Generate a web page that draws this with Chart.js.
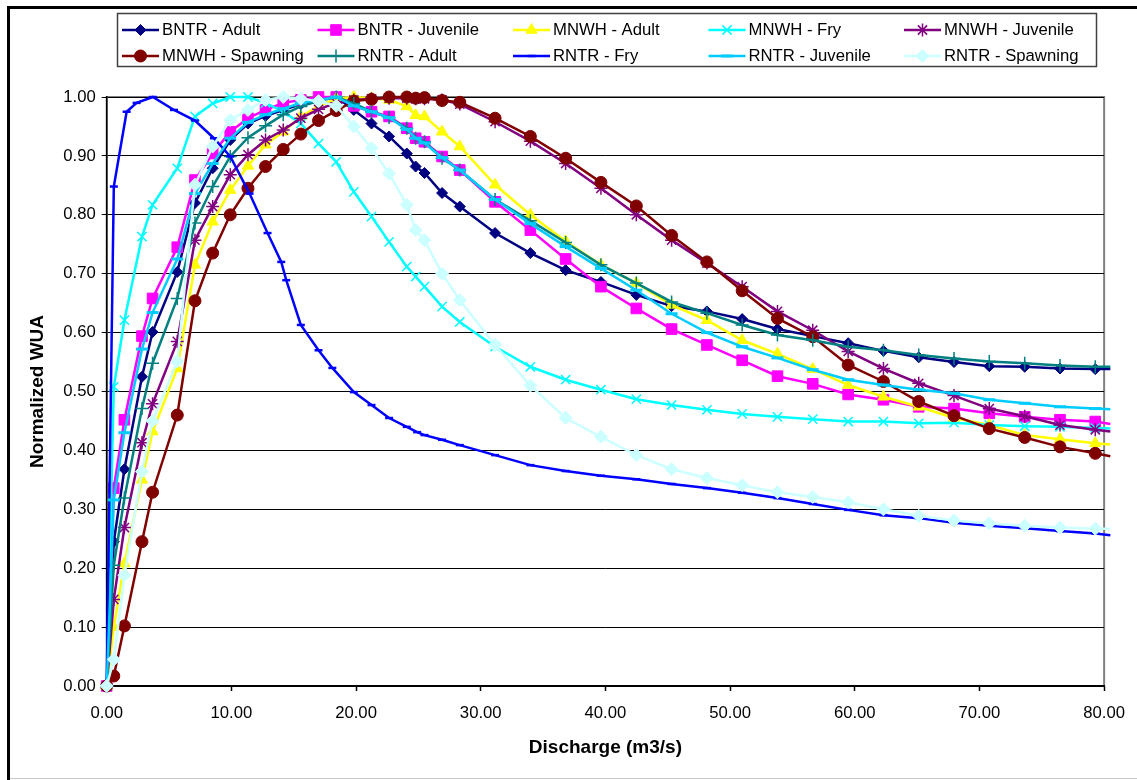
<!DOCTYPE html>
<html>
<head>
<meta charset="utf-8">
<script src="https://cdn.jsdelivr.net/npm/chart.js@4.4.1/dist/chart.umd.min.js"></script>
<style>
html, body { margin: 0; padding: 0; background: #fff; }
#wrap { position: relative; width: 1137px; height: 780px; }
</style>
</head>
<body>
<div id="wrap"><canvas id="wua"></canvas></div>
<script>
// Normalized WUA vs discharge — habitat curves per reach / life stage

// discharge (m3/s) shared by most curves
const discharge = [0, 0.57, 1.42, 2.83, 3.68, 5.66, 7.08, 8.50, 9.91, 11.33, 12.74, 14.16, 15.57, 16.99, 18.41, 19.82,
  21.24, 22.65, 24.07, 24.78, 25.49, 26.90, 28.32, 31.15, 33.98, 36.81, 39.64, 42.48, 45.31, 48.14, 50.97, 53.80,
  56.63, 59.47, 62.30, 65.13, 67.96, 70.79, 73.63, 76.46, 79.29, 80.50];
// RNTR fry was run on its own set of flows
const dischargeRntrFry = [0, 0.57, 1.60, 2.40, 3.70, 5.40, 7.08, 8.60, 9.91, 11.46, 12.90, 14.00, 14.40, 15.57, 16.99,
  18.10, 19.82, 21.24, 22.65, 24.07, 24.90, 25.49, 26.90, 28.32, 31.15, 33.98, 36.81, 39.64, 42.48, 45.31, 48.14,
  50.97, 53.80, 56.63, 59.47, 62.30, 65.13, 67.96, 70.79, 73.63, 76.46, 79.29, 80.50];

const bntrAdult = [0, 0.245, 0.368, 0.525, 0.601, 0.703, 0.820, 0.879, 0.927, 0.955, 0.968, 0.978, 0.988, 0.995, 1.000,
  0.978, 0.955, 0.933, 0.904, 0.882, 0.871, 0.837, 0.814, 0.769, 0.735, 0.706, 0.686, 0.664, 0.645, 0.636, 0.623,
  0.606, 0.594, 0.582, 0.569, 0.558, 0.550, 0.543, 0.542, 0.539, 0.538, 0.538];
const bntrJuvenile = [0, 0.336, 0.452, 0.594, 0.658, 0.745, 0.859, 0.904, 0.941, 0.964, 0.978, 0.990, 0.995, 1.000, 1.000,
  0.985, 0.975, 0.967, 0.947, 0.930, 0.924, 0.899, 0.876, 0.822, 0.774, 0.725, 0.678, 0.641, 0.606, 0.579, 0.553,
  0.526, 0.513, 0.495, 0.486, 0.474, 0.471, 0.463, 0.457, 0.452, 0.449, 0.445];
const mnwhAdult = [0, 0.100, 0.208, 0.350, 0.432, 0.539, 0.715, 0.788, 0.842, 0.883, 0.919, 0.941, 0.967, 0.984, 0.997,
  1.000, 0.998, 0.995, 0.984, 0.969, 0.967, 0.941, 0.916, 0.851, 0.800, 0.755, 0.715, 0.684, 0.647, 0.621, 0.587,
  0.564, 0.538, 0.511, 0.491, 0.474, 0.455, 0.443, 0.426, 0.419, 0.412, 0.410];
const mnwhFry = [0, 0.508, 0.621, 0.763, 0.817, 0.879, 0.967, 0.989, 1.000, 1.000, 0.990, 0.975, 0.955, 0.921, 0.890,
  0.839, 0.797, 0.754, 0.712, 0.695, 0.678, 0.644, 0.618, 0.576, 0.542, 0.520, 0.503, 0.487, 0.477, 0.469, 0.462,
  0.457, 0.453, 0.449, 0.449, 0.446, 0.447, 0.443, 0.441, 0.440, 0.438, 0.437];
const mnwhJuvenile = [0, 0.147, 0.269, 0.413, 0.479, 0.585, 0.757, 0.814, 0.868, 0.902, 0.927, 0.944, 0.964, 0.979, 0.990,
  0.995, 0.997, 0.998, 0.998, 0.997, 0.997, 0.995, 0.988, 0.958, 0.925, 0.887, 0.845, 0.800, 0.757, 0.718, 0.678,
  0.636, 0.604, 0.568, 0.539, 0.514, 0.493, 0.471, 0.458, 0.443, 0.435, 0.432];
const mnwhSpawning = [0, 0.017, 0.102, 0.245, 0.329, 0.460, 0.654, 0.735, 0.800, 0.845, 0.882, 0.911, 0.937, 0.960, 0.977,
  0.993, 0.996, 1.000, 1.000, 0.998, 0.999, 0.994, 0.991, 0.964, 0.933, 0.896, 0.855, 0.815, 0.765, 0.720, 0.671,
  0.624, 0.593, 0.545, 0.517, 0.483, 0.459, 0.437, 0.422, 0.406, 0.395, 0.390];
const rntrAdult = [0, 0.205, 0.319, 0.471, 0.548, 0.658, 0.786, 0.848, 0.899, 0.931, 0.951, 0.970, 0.984, 0.993, 1.000,
  0.989, 0.975, 0.965, 0.947, 0.930, 0.924, 0.896, 0.876, 0.826, 0.790, 0.753, 0.715, 0.684, 0.652, 0.633, 0.613,
  0.596, 0.587, 0.576, 0.570, 0.562, 0.556, 0.551, 0.548, 0.544, 0.542, 0.542];
const rntrFry = [0, 0.848, 0.975, 0.990, 1.000, 0.978, 0.960, 0.930, 0.899, 0.836, 0.769, 0.720, 0.689, 0.613, 0.570,
  0.540, 0.499, 0.477, 0.455, 0.440, 0.431, 0.426, 0.418, 0.409, 0.392, 0.375, 0.365, 0.357, 0.351, 0.343, 0.336,
  0.328, 0.319, 0.309, 0.299, 0.290, 0.285, 0.277, 0.272, 0.268, 0.263, 0.259, 0.256];
const rntrJuvenile = [0, 0.316, 0.430, 0.572, 0.634, 0.725, 0.836, 0.887, 0.930, 0.957, 0.970, 0.980, 0.990, 0.995, 1.000,
  0.985, 0.975, 0.965, 0.945, 0.930, 0.922, 0.897, 0.876, 0.826, 0.785, 0.746, 0.709, 0.672, 0.632, 0.600, 0.576,
  0.557, 0.537, 0.520, 0.511, 0.503, 0.497, 0.486, 0.480, 0.474, 0.471, 0.470];
const rntrSpawning = [0, 0.045, 0.188, 0.364, 0.450, 0.551, 0.851, 0.916, 0.961, 0.978, 0.995, 1.000, 0.997, 0.993, 0.985,
  0.950, 0.913, 0.870, 0.817, 0.774, 0.757, 0.700, 0.655, 0.579, 0.510, 0.455, 0.423, 0.392, 0.368, 0.353, 0.341,
  0.329, 0.321, 0.312, 0.300, 0.289, 0.281, 0.276, 0.272, 0.269, 0.267, 0.267];

const seriesNames = ['BNTR - Adult', 'BNTR - Juvenile', 'MNWH - Adult', 'MNWH - Fry', 'MNWH - Juvenile',
  'MNWH - Spawning', 'RNTR - Adult', 'RNTR - Fry', 'RNTR - Juvenile', 'RNTR - Spawning'];
const xTicks = [0, 10, 20, 30, 40, 50, 60, 70, 80];
const yTicks = [0, 0.1, 0.2, 0.3, 0.4, 0.5, 0.6, 0.7, 0.8, 0.9, 1.0];

// excel-ish marker styles, same order as seriesNames
const looks = [
  { c: '#000080', m: 'rectRot', r: 5.5, w: 1 },
  { c: '#ff00ff', m: 'rect', r: 7.5, w: 1 },
  { c: '#ffff00', m: 'triangle', r: 6.5, w: 1 },
  { c: '#00ffff', m: 'crossRot', r: 6.5, w: 1.5 },
  { c: '#800080', m: 'star', r: 6.5, w: 1.5 },
  { c: '#800000', m: 'circle', r: 6, w: 1 },
  { c: '#008080', m: 'cross', r: 6.5, w: 1.5 },
  { c: '#0000ff', m: 'line', r: 4, w: 2.5 },
  { c: '#00ccff', m: 'line', r: 6, w: 3 },
  { c: '#ccffff', m: 'rectRot', r: 6.5, w: 1 }
];

const FONT = '"Liberation Sans", Arial, sans-serif';

const xs = [discharge, discharge, discharge, discharge, discharge, discharge, discharge, dischargeRntrFry, discharge, discharge];
const ys = [bntrAdult, bntrJuvenile, mnwhAdult, mnwhFry, mnwhJuvenile, mnwhSpawning, rntrAdult, rntrFry, rntrJuvenile, rntrSpawning];

const datasets = seriesNames.map((name, i) => {
  const L = looks[i];
  const q = xs[i];
  return {
    label: name,
    data: q.map((x, k) => ({ x: x, y: ys[i][k] })),
    showLine: true,
    borderColor: L.c,
    backgroundColor: L.c,
    borderWidth: 2.5,
    pointStyle: L.m,
    pointBackgroundColor: L.c,
    pointBorderColor: L.c,
    pointBorderWidth: L.w,
    // last flow is past the axis end, no marker there
    pointRadius: ctx => ctx.dataIndex === q.length - 1 ? 0 : L.r,
    tension: 0,
    clip: false,
    order: seriesNames.length - i // later series on top, like excel
  };
});

const framePlugin = {
  id: 'frame',
  beforeDraw(chart) {
    const { ctx, chartArea: a } = chart;
    ctx.save();
    ctx.strokeStyle = '#808080';
    ctx.lineWidth = 2;
    ctx.strokeRect(a.left, a.top, a.right - a.left, a.bottom - a.top);
    ctx.restore();
  },
  afterDraw(chart) {
    const ctx = chart.ctx;
    ctx.save();
    // outer chart border
    ctx.strokeStyle = '#000';
    ctx.lineWidth = 3;
    ctx.beginPath();
    ctx.moveTo(8.5, 780); ctx.lineTo(8.5, 7.5); ctx.lineTo(1137, 7.5);
    ctx.stroke();
    ctx.strokeStyle = '#c8c8c8';
    ctx.lineWidth = 1;
    ctx.beginPath();
    ctx.moveTo(10, 778.5); ctx.lineTo(1137, 778.5);
    ctx.stroke();

    // legend box, 5 columns x 2 rows
    ctx.fillStyle = '#fff';
    ctx.fillRect(117.5, 13.5, 979, 53);
    ctx.strokeStyle = '#404040';
    ctx.lineWidth = 1.5;
    ctx.strokeRect(117.5, 13.5, 979, 53);
    const colX = [122, 317.5, 513, 708.5, 904];
    const rowY = [30, 56];
    ctx.font = '16.7px ' + FONT;
    ctx.textBaseline = 'middle';
    ctx.textAlign = 'left';
    seriesNames.forEach((name, i) => {
      const L = looks[i];
      const x0 = colX[i % 5], y0 = rowY[Math.floor(i / 5)];
      ctx.strokeStyle = L.c;
      ctx.fillStyle = L.c;
      ctx.lineWidth = 2.5;
      ctx.beginPath();
      ctx.moveTo(x0, y0); ctx.lineTo(x0 + 37, y0);
      ctx.stroke();
      ctx.lineWidth = L.w;
      Chart.helpers.drawPoint(ctx, { pointStyle: L.m, radius: L.r, borderWidth: L.w, rotation: 0 }, x0 + 18.5, y0);
      ctx.fillStyle = '#000';
      ctx.fillText(name, x0 + 40, y0 + 0.5);
    });
    ctx.restore();
  }
};

new Chart(document.getElementById('wua'), {
  type: 'scatter',
  data: { datasets: datasets },
  options: {
    responsive: true,
    maintainAspectRatio: false,
    animation: false,
    events: [],
    layout: { padding: { top: 97, right: 30.3, left: 0, bottom: 0 } },
    plugins: { legend: { display: false }, tooltip: { enabled: false } },
    scales: {
      x: {
        type: 'linear',
        min: xTicks[0], max: xTicks[xTicks.length - 1],
        afterBuildTicks: s => { s.ticks = xTicks.map(v => ({ value: v })); },
        afterFit: s => { s.height = 94; },
        ticks: { color: '#000', font: { family: FONT, size: 16.7 }, padding: 12, maxRotation: 0,
          callback: v => Number(v).toFixed(2) },
        grid: { drawOnChartArea: false, drawTicks: true, tickLength: 5, tickColor: '#000', tickWidth: 1.5 },
        border: { color: '#000', width: 1.5 },
        title: { display: true, text: 'Discharge (m3/s)', color: '#000',
          font: { family: FONT, size: 19, weight: 'bold' }, padding: { top: 0, bottom: 21 } }
      },
      y: {
        type: 'linear',
        min: yTicks[0], max: yTicks[yTicks.length - 1],
        afterBuildTicks: s => { s.ticks = yTicks.map(v => ({ value: v })); },
        afterFit: s => { s.width = 106.7; },
        ticks: { color: '#000', font: { family: FONT, size: 16.7 }, padding: 6,
          callback: v => Number(v).toFixed(2) },
        grid: { color: '#000', lineWidth: 1, tickLength: 5, tickColor: '#000' },
        border: { color: '#000', width: 1.5 },
        title: { display: true, text: 'Normalized WUA', color: '#000',
          font: { family: FONT, size: 19, weight: 'bold' }, padding: { top: 26, bottom: 0 } }
      }
    }
  },
  plugins: [framePlugin]
});
</script>
</body>
</html>
